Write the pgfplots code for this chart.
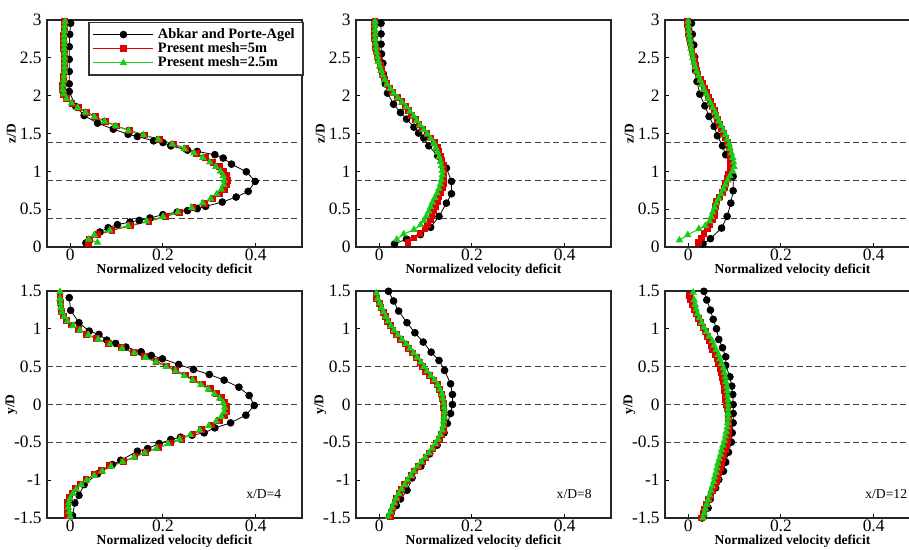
\documentclass[border=0pt]{standalone}
\usepackage{pgfplots}
\pgfplotsset{compat=1.18}
\usepackage{fontspec}
\setmainfont{Liberation Serif}
\definecolor{myred}{rgb}{0.88,0,0}
\definecolor{mygreen}{rgb}{0.1,0.8,0.1}
\definecolor{dashgray}{gray}{0.25}
\pgfplotsset{
  vd/.style={
    scale only axis, width=127.5pt, height=113.5pt, anchor=south west,
    xmin=-0.05, xmax=0.5, xtick={0,0.2,0.4},
    tick align=inside, tick pos=left, major tick length=2pt,
    axis line style={line width=0.6pt, black!85},
    every tick/.style={black, line width=0.5pt},
    tick label style={font=\fontsize{8.7}{9}\selectfont},
    /pgf/number format/assume math mode=true,
    x tick label style={inner sep=0pt, anchor=north, yshift=-0.6pt},
    y tick label style={inner sep=0pt, anchor=east, xshift=-2.5pt},
    xlabel={Normalized velocity deficit},
    xlabel style={at={(axis description cs:0.5,0)}, anchor=center, yshift=-11.4pt, font=\bfseries\fontsize{6.8}{7}\selectfont},
    ylabel style={at={(axis description cs:-0.14,0.5)}, anchor=center, font=\bfseries\fontsize{6.7}{7}\selectfont},
    clip=false,
  },
  top/.style={vd, ymin=0, ymax=3, ytick={0,0.5,1,1.5,2,2.5,3}, ylabel={z/D},
    yticklabels={0,0.5,1,1.5,2,2.5,3}},
  bot/.style={vd, ymin=-1.5, ymax=1.5, ytick={-1.5,-1,-0.5,0,0.5,1,1.5}, ylabel={y/D},
    yticklabels={-1.5,-1,-0.5,0,0.5,1,1.5}},
  lgimg/.style={legend image code/.code={\draw[mark repeat=2, mark phase=2] plot coordinates {(0pt,0pt) (15pt,0pt) (30pt,0pt)};}},
  abk/.style={black, line width=0.4pt, mark=*, mark size=1.7pt, mark options={solid, fill=black}, lgimg},
  m5/.style={myred, line width=0.5pt, mark=square*, mark size=1.45pt, mark options={solid, fill=myred}, lgimg},
  m25/.style={mygreen, line width=0.5pt, mark=triangle*, mark size=1.7pt, mark options={solid, fill=mygreen}, lgimg},
  dl/.style={dashgray, line width=0.5pt, dash pattern=on 3pt off 1.7pt, forget plot},
}
\begin{document}
\begin{tikzpicture}
\useasboundingbox (0,0) rectangle (454.5pt,275pt);
% ---------------- Panel 1 ----------------
\begin{axis}[top, at={(23.5pt,151.5pt)},
  legend style={at={(rel axis cs:0.161,0.993)}, anchor=north west, draw=black!80, line width=0.9pt,
    font=\bfseries\fontsize{7.2}{7.4}\selectfont, inner xsep=2pt, inner ysep=2.5pt,
    nodes={inner ysep=0.3pt, inner xsep=2pt}, row sep=0pt, legend cell align=left}]
\addplot[dl] coordinates {(-0.05,0.375) (0.5,0.375)};
\addplot[dl] coordinates {(-0.05,0.875) (0.5,0.875)};
\addplot[dl] coordinates {(-0.05,1.378) (0.5,1.378)};
\addplot[abk] table[x=u,y=z] {
u z
0.034 0.053
0.064 0.198
0.082 0.255
0.102 0.295
0.129 0.330
0.149 0.352
0.172 0.383
0.200 0.427
0.231 0.462
0.253 0.480
0.274 0.506
0.292 0.537
0.328 0.594
0.358 0.660
0.384 0.735
0.399 0.867
0.380 0.994
0.348 1.095
0.330 1.175
0.312 1.220
0.274 1.263
0.253 1.280
0.217 1.337
0.200 1.380
0.180 1.403
0.145 1.460
0.125 1.490
0.093 1.557
0.059 1.637
0.030 1.738
0.012 1.857
-0.002 2.055
-0.002 2.156
-0.002 2.320
-0.002 2.480
-0.002 2.647
-0.001 2.810
0.001 2.957
};
\addlegendentry{Abkar and Porte-Agel}
\addplot[m5] table[x=u,y=z] {
z u
0.04 0.039
0.10 0.042
0.16 0.060
0.22 0.090
0.28 0.130
0.34 0.170
0.40 0.205
0.46 0.235
0.52 0.265
0.58 0.290
0.64 0.308
0.70 0.322
0.76 0.333
0.82 0.338
0.88 0.340
0.94 0.337
1.00 0.331
1.06 0.322
1.12 0.308
1.18 0.292
1.24 0.272
1.30 0.250
1.36 0.222
1.42 0.192
1.48 0.160
1.54 0.128
1.60 0.100
1.66 0.076
1.72 0.054
1.78 0.035
1.84 0.018
1.90 0.004
1.96 -0.008
2.02 -0.015
2.08 -0.017
2.14 -0.016
2.20 -0.015
2.26 -0.014
2.32 -0.013
2.38 -0.013
2.44 -0.013
2.50 -0.013
2.56 -0.013
2.62 -0.014
2.68 -0.014
2.74 -0.014
2.80 -0.014
2.86 -0.013
2.92 -0.013
2.98 -0.012
};
\addlegendentry{Present mesh=5m}
\addplot[m25] table[x=u,y=z] {
z u
0.06 0.059
0.10 0.040
0.16 0.052
0.22 0.085
0.28 0.125
0.34 0.165
0.40 0.200
0.46 0.232
0.52 0.262
0.58 0.286
0.64 0.303
0.70 0.316
0.76 0.326
0.82 0.331
0.88 0.332
0.94 0.330
1.00 0.324
1.06 0.314
1.12 0.301
1.18 0.286
1.24 0.267
1.30 0.246
1.36 0.220
1.42 0.190
1.48 0.158
1.54 0.126
1.60 0.098
1.66 0.074
1.72 0.052
1.78 0.033
1.84 0.016
1.90 0.003
1.96 -0.008
2.02 -0.014
2.08 -0.016
2.14 -0.015
2.20 -0.014
2.26 -0.013
2.32 -0.012
2.38 -0.012
2.44 -0.012
2.50 -0.012
2.56 -0.012
2.62 -0.013
2.68 -0.013
2.74 -0.013
2.80 -0.013
2.86 -0.012
2.92 -0.012
2.98 -0.011
};
\addlegendentry{Present mesh=2.5m}
\end{axis}
% ---------------- Panel 2 ----------------
\begin{axis}[top, at={(178pt,151.5pt)}]
\addplot[dl] coordinates {(-0.05,0.375) (0.5,0.375)};
\addplot[dl] coordinates {(-0.05,0.875) (0.5,0.875)};
\addplot[dl] coordinates {(-0.05,1.378) (0.5,1.378)};
\addplot[abk] table[x=u,y=z] {
u z
0.033 0.040
0.059 0.105
0.089 0.163
0.111 0.260
0.129 0.405
0.145 0.580
0.156 0.704
0.156 0.867
0.145 1.043
0.126 1.205
0.107 1.337
0.096 1.440
0.085 1.505
0.075 1.584
0.059 1.690
0.046 1.777
0.031 1.887
0.018 2.033
0.013 2.156
0.009 2.288
0.008 2.428
0.005 2.552
0.004 2.680
0.004 2.816
0.004 2.956
};
\addplot[m5] table[x=u,y=z] {
z u
0.06 0.062
0.12 0.075
0.18 0.088
0.24 0.099
0.30 0.105
0.36 0.110
0.42 0.114
0.48 0.118
0.54 0.121
0.60 0.125
0.66 0.129
0.72 0.133
0.78 0.136
0.84 0.138
0.90 0.139
0.96 0.140
1.02 0.140
1.08 0.138
1.14 0.135
1.20 0.132
1.26 0.129
1.32 0.125
1.38 0.120
1.44 0.111
1.50 0.103
1.56 0.094
1.62 0.086
1.68 0.078
1.74 0.070
1.80 0.063
1.86 0.056
1.92 0.049
1.98 0.040
2.04 0.029
2.10 0.022
2.16 0.017
2.22 0.012
2.28 0.008
2.34 0.005
2.40 0.002
2.46 -0.001
2.52 -0.003
2.58 -0.006
2.64 -0.008
2.70 -0.009
2.76 -0.010
2.82 -0.011
2.88 -0.011
2.94 -0.010
2.98 -0.009
};
\addplot[m25] table[x=u,y=z] {
z u
0.10 0.038
0.17 0.053
0.23 0.075
0.29 0.089
0.35 0.097
0.41 0.102
0.47 0.107
0.53 0.111
0.59 0.115
0.65 0.120
0.71 0.125
0.77 0.129
0.83 0.132
0.89 0.134
0.95 0.136
1.01 0.136
1.07 0.134
1.13 0.132
1.19 0.129
1.25 0.126
1.31 0.122
1.37 0.118
1.43 0.111
1.49 0.104
1.55 0.096
1.61 0.088
1.67 0.081
1.73 0.074
1.79 0.066
1.85 0.058
1.91 0.049
1.97 0.040
2.03 0.031
2.09 0.024
2.15 0.017
2.21 0.012
2.27 0.007
2.33 0.004
2.39 0.001
2.45 -0.002
2.51 -0.004
2.57 -0.006
2.63 -0.007
2.69 -0.008
2.75 -0.009
2.81 -0.009
2.87 -0.009
2.93 -0.009
2.98 -0.009
};
\end{axis}
% ---------------- Panel 3 ----------------
\begin{axis}[top, at={(332.5pt,151.5pt)}]
\addplot[dl] coordinates {(-0.05,0.375) (0.5,0.375)};
\addplot[dl] coordinates {(-0.05,0.875) (0.5,0.875)};
\addplot[dl] coordinates {(-0.05,1.378) (0.5,1.378)};
\addplot[abk] table[x=u,y=z] {
u z
0.032 0.040
0.048 0.110
0.072 0.250
0.084 0.405
0.092 0.580
0.097 0.743
0.097 0.933
0.092 1.109
0.081 1.219
0.074 1.337
0.063 1.469
0.056 1.593
0.045 1.725
0.036 1.865
0.025 2.020
0.019 2.187
0.016 2.327
0.014 2.508
0.012 2.670
0.009 2.811
0.007 2.956
};
\addplot[m5] table[x=u,y=z] {
z u
0.06 0.022
0.12 0.028
0.18 0.034
0.24 0.041
0.30 0.047
0.36 0.053
0.42 0.056
0.48 0.058
0.54 0.059
0.60 0.061
0.66 0.067
0.72 0.074
0.78 0.078
0.84 0.081
0.90 0.084
0.96 0.087
1.02 0.090
1.08 0.092
1.14 0.092
1.20 0.091
1.26 0.090
1.32 0.088
1.38 0.085
1.44 0.080
1.50 0.076
1.56 0.072
1.62 0.068
1.68 0.064
1.74 0.060
1.80 0.057
1.86 0.053
1.92 0.048
1.98 0.044
2.04 0.040
2.10 0.035
2.16 0.031
2.22 0.026
2.28 0.021
2.34 0.018
2.40 0.015
2.46 0.013
2.52 0.011
2.58 0.008
2.64 0.006
2.70 0.004
2.76 0.002
2.82 0.001
2.88 0.000
2.94 -0.001
2.98 -0.001
};
\addplot[m25] table[x=u,y=z] {
z u
0.09 -0.019
0.16 -0.001
0.24 0.023
0.28 0.037
0.34 0.046
0.40 0.050
0.46 0.053
0.52 0.057
0.58 0.061
0.64 0.066
0.70 0.071
0.76 0.076
0.82 0.080
0.88 0.085
0.94 0.090
1.00 0.096
1.06 0.099
1.12 0.098
1.18 0.096
1.24 0.093
1.30 0.090
1.36 0.088
1.42 0.084
1.48 0.080
1.54 0.076
1.60 0.071
1.66 0.066
1.72 0.062
1.78 0.058
1.84 0.053
1.90 0.048
1.96 0.043
2.02 0.039
2.08 0.034
2.14 0.030
2.20 0.026
2.26 0.022
2.32 0.018
2.38 0.015
2.44 0.012
2.50 0.010
2.56 0.008
2.62 0.006
2.68 0.005
2.74 0.003
2.80 0.002
2.86 0.001
2.92 0.000
2.98 0.000
};
\end{axis}
% ---------------- Panel 4 ----------------
\begin{axis}[bot, at={(23.5pt,16pt)}]
\addplot[dl] coordinates {(-0.05,-0.5) (0.5,-0.5)};
\addplot[dl] coordinates {(-0.05,0) (0.5,0)};
\addplot[dl] coordinates {(-0.05,0.5) (0.5,0.5)};
\addplot[abk] table[x=u,y=z] {
u z
0.005 -1.469
0.010 -1.301
0.019 -1.200
0.030 -1.059
0.059 -0.917
0.091 -0.794
0.109 -0.737
0.145 -0.618
0.167 -0.582
0.192 -0.516
0.217 -0.463
0.238 -0.432
0.263 -0.406
0.289 -0.375
0.312 -0.309
0.346 -0.243
0.379 -0.141
0.397 -0.013
0.386 0.119
0.364 0.229
0.332 0.322
0.300 0.397
0.266 0.463
0.234 0.529
0.199 0.604
0.175 0.648
0.153 0.697
0.120 0.759
0.098 0.807
0.079 0.851
0.062 0.926
0.041 0.970
0.019 1.081
0.001 1.244
-0.002 1.412
};
\addplot[m5] table[x=u,y=z] {
z u
-1.47 -0.006
-1.41 -0.006
-1.35 -0.006
-1.29 -0.005
-1.23 -0.002
-1.17 0.004
-1.11 0.012
-1.05 0.022
-0.99 0.034
-0.93 0.052
-0.87 0.068
-0.81 0.085
-0.75 0.115
-0.69 0.140
-0.63 0.163
-0.57 0.190
-0.51 0.216
-0.45 0.240
-0.39 0.265
-0.33 0.283
-0.27 0.306
-0.21 0.322
-0.15 0.332
-0.09 0.337
-0.03 0.338
0.03 0.334
0.09 0.326
0.15 0.315
0.21 0.302
0.27 0.285
0.33 0.266
0.39 0.248
0.45 0.228
0.51 0.208
0.57 0.185
0.63 0.161
0.69 0.137
0.75 0.110
0.81 0.082
0.87 0.056
0.93 0.035
0.99 0.018
1.05 0.003
1.11 -0.008
1.17 -0.014
1.23 -0.018
1.29 -0.020
1.35 -0.021
1.41 -0.022
1.47 -0.022
};
\addplot[m25] table[x=u,y=z] {
z u
-1.48 0.000
-1.42 -0.002
-1.36 -0.004
-1.30 -0.003
-1.24 0.000
-1.18 0.006
-1.12 0.013
-1.06 0.024
-1.00 0.036
-0.94 0.052
-0.88 0.069
-0.82 0.088
-0.76 0.113
-0.70 0.138
-0.64 0.161
-0.58 0.186
-0.52 0.211
-0.46 0.236
-0.40 0.259
-0.34 0.279
-0.28 0.299
-0.22 0.315
-0.16 0.326
-0.10 0.332
-0.04 0.333
0.02 0.330
0.08 0.322
0.14 0.311
0.20 0.298
0.26 0.282
0.32 0.264
0.38 0.246
0.44 0.227
0.50 0.207
0.56 0.185
0.62 0.162
0.68 0.138
0.74 0.112
0.80 0.086
0.86 0.060
0.92 0.039
0.98 0.021
1.04 0.006
1.10 -0.006
1.16 -0.013
1.22 -0.018
1.28 -0.020
1.34 -0.021
1.40 -0.022
1.49 -0.022
};
\node[anchor=east, font=\fontsize{6.8}{7}\selectfont, inner sep=0pt] at (axis cs:0.456,-1.18) {x/D=4};
\end{axis}
% ---------------- Panel 5 ----------------
\begin{axis}[bot, at={(178pt,16pt)}]
\addplot[dl] coordinates {(-0.05,-0.5) (0.5,-0.5)};
\addplot[dl] coordinates {(-0.05,0) (0.5,0)};
\addplot[dl] coordinates {(-0.05,0.5) (0.5,0.5)};
\addplot[abk] table[x=u,y=z] {
u z
0.022 -1.478
0.037 -1.337
0.046 -1.248
0.060 -1.134
0.071 -0.970
0.090 -0.816
0.109 -0.653
0.125 -0.538
0.140 -0.375
0.147 -0.251
0.154 -0.119
0.158 0.000
0.158 0.132
0.154 0.273
0.141 0.450
0.129 0.582
0.112 0.692
0.095 0.825
0.077 0.948
0.060 1.081
0.042 1.235
0.031 1.368
0.020 1.496
};
\addplot[m5] table[x=u,y=z] {
z u
-1.48 0.024
-1.42 0.027
-1.36 0.030
-1.30 0.034
-1.24 0.038
-1.18 0.043
-1.12 0.048
-1.06 0.055
-1.00 0.062
-0.94 0.069
-0.88 0.076
-0.82 0.084
-0.76 0.093
-0.70 0.101
-0.64 0.109
-0.58 0.116
-0.52 0.124
-0.46 0.130
-0.40 0.135
-0.34 0.139
-0.28 0.140
-0.22 0.140
-0.16 0.140
-0.10 0.140
-0.04 0.139
0.02 0.138
0.08 0.137
0.14 0.134
0.20 0.130
0.26 0.125
0.32 0.117
0.38 0.108
0.44 0.100
0.50 0.094
0.56 0.088
0.62 0.080
0.68 0.071
0.74 0.063
0.80 0.056
0.86 0.046
0.92 0.037
0.98 0.030
1.04 0.024
1.10 0.018
1.16 0.013
1.22 0.009
1.28 0.004
1.34 0.000
1.40 -0.006
1.44 -0.007
};
\addplot[m25] table[x=u,y=z] {
z u
-1.48 0.020
-1.42 0.024
-1.36 0.028
-1.30 0.032
-1.24 0.037
-1.18 0.042
-1.12 0.048
-1.06 0.055
-1.00 0.061
-0.94 0.068
-0.88 0.075
-0.82 0.083
-0.76 0.091
-0.70 0.099
-0.64 0.107
-0.58 0.114
-0.52 0.121
-0.46 0.127
-0.40 0.132
-0.34 0.136
-0.28 0.138
-0.22 0.139
-0.16 0.140
-0.10 0.141
-0.04 0.140
0.02 0.139
0.08 0.137
0.14 0.135
0.20 0.131
0.26 0.126
0.32 0.119
0.38 0.111
0.44 0.103
0.50 0.096
0.56 0.090
0.62 0.082
0.68 0.074
0.74 0.066
0.80 0.058
0.86 0.049
0.92 0.040
0.98 0.032
1.04 0.025
1.10 0.019
1.16 0.014
1.22 0.009
1.28 0.005
1.34 0.001
1.40 -0.003
1.47 -0.006
};
\node[anchor=east, font=\fontsize{6.8}{7}\selectfont, inner sep=0pt] at (axis cs:0.459,-1.18) {x/D=8};
\end{axis}
% ---------------- Panel 6 ----------------
\begin{axis}[bot, at={(332.5pt,16pt)}]
\addplot[dl] coordinates {(-0.05,-0.5) (0.5,-0.5)};
\addplot[dl] coordinates {(-0.05,0) (0.5,0)};
\addplot[dl] coordinates {(-0.05,0.5) (0.5,0.5)};
\addplot[abk] table[x=u,y=z] {
u z
0.030 -1.500
0.043 -1.368
0.048 -1.248
0.059 -1.103
0.066 -0.992
0.076 -0.882
0.081 -0.763
0.087 -0.631
0.093 -0.498
0.095 -0.375
0.097 -0.243
0.097 -0.119
0.097 0.000
0.096 0.132
0.094 0.243
0.090 0.366
0.081 0.516
0.081 0.631
0.074 0.750
0.066 0.860
0.061 1.000
0.054 1.125
0.048 1.248
0.040 1.381
0.034 1.496
};
\addplot[m5] table[x=u,y=z] {
z u
-1.50 0.029
-1.44 0.033
-1.38 0.036
-1.32 0.040
-1.26 0.044
-1.20 0.049
-1.14 0.053
-1.08 0.058
-1.02 0.062
-0.96 0.064
-0.90 0.066
-0.84 0.069
-0.78 0.072
-0.72 0.074
-0.66 0.077
-0.60 0.080
-0.54 0.082
-0.48 0.084
-0.42 0.086
-0.36 0.088
-0.30 0.088
-0.24 0.088
-0.18 0.087
-0.12 0.086
-0.06 0.085
0.00 0.083
0.06 0.081
0.12 0.080
0.18 0.079
0.24 0.078
0.30 0.076
0.36 0.074
0.42 0.072
0.48 0.069
0.54 0.066
0.60 0.063
0.66 0.058
0.72 0.053
0.78 0.049
0.84 0.045
0.90 0.041
0.96 0.037
1.02 0.032
1.08 0.027
1.14 0.022
1.20 0.017
1.26 0.013
1.32 0.009
1.38 0.005
1.44 0.002
};
\addplot[m25] table[x=u,y=z] {
z u
-1.50 0.032
-1.44 0.035
-1.38 0.037
-1.32 0.040
-1.26 0.043
-1.20 0.046
-1.14 0.049
-1.08 0.052
-1.02 0.055
-0.96 0.057
-0.90 0.060
-0.84 0.062
-0.78 0.064
-0.72 0.067
-0.66 0.070
-0.60 0.072
-0.54 0.075
-0.48 0.078
-0.42 0.080
-0.36 0.082
-0.30 0.084
-0.24 0.085
-0.18 0.086
-0.12 0.086
-0.06 0.086
0.00 0.086
0.06 0.086
0.12 0.085
0.18 0.084
0.24 0.083
0.30 0.081
0.36 0.080
0.42 0.078
0.48 0.076
0.54 0.072
0.60 0.068
0.66 0.065
0.72 0.060
0.78 0.056
0.84 0.052
0.90 0.045
0.96 0.039
1.02 0.034
1.08 0.029
1.14 0.024
1.20 0.020
1.26 0.017
1.32 0.015
1.38 0.013
1.48 0.011
};
\node[anchor=east, font=\fontsize{6.8}{7}\selectfont, inner sep=0pt] at (axis cs:0.473,-1.18) {x/D=12};
\end{axis}
\end{tikzpicture}
\end{document}
